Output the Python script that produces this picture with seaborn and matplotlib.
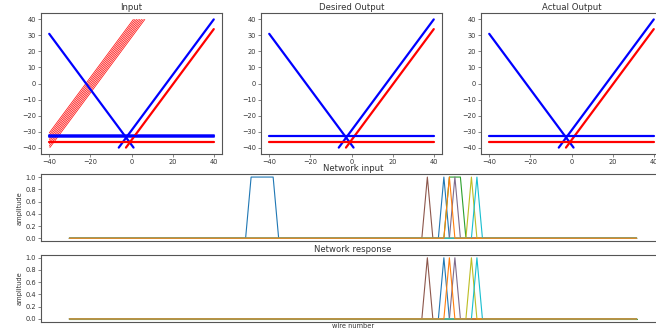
import numpy as np
import matplotlib
matplotlib.use("Agg")
import matplotlib.pyplot as plt
import seaborn as sns

sns.set_style("white")
plt.rcParams['font.family'] = ['DejaVu Sans']

# ---------------- data ----------------
# top panels: straight tracks at +/-60 degrees, given by x where the track crosses y=0
track_x0 = [-22.1, 16.9, 20.4]
track_sign = [-1, 1, 1]
track_color = ['blue', 'blue', 'red']
horiz_y = [-33.0, -36.6]
horiz_color = ['blue', 'red']
# extra (noise) tracks only present in the input
noise_x0 = [-22.2, -21.4, -20.6, -19.8, -19.0, -18.2, -17.4, -16.6]
noise_color = 'red'
noise_horiz_y = [-32.3, -33.7]
noise_horiz_color = 'blue'

coord_ticks = [-40, -20, 0, 20, 40]
coord_yticks = [-40, -30, -20, -10, 0, 10, 20, 30, 40]

# bottom panels: wires hit (amplitude 1) per series
n_wires = 104
series_colors = ['#1f77b4', '#2ca02c', '#8c564b', '#7f6a8a', '#bcbd22', '#17becf', '#ff7f0e']
input_hits = [[33, 34, 35, 36, 37, 68], [69, 70, 71], [65], [70], [73], [74], [69]]
response_hits = [[68], [], [65], [70], [73], [74], [69]]
amp_ticks = [0.0, 0.2, 0.4, 0.6, 0.8, 1.0]

# ---------------- drawing ----------------
W, H = 656, 332
fig = plt.figure(figsize=(W / 100, H / 100), dpi=100)

SL = np.tan(np.radians(60))
LIM = 40.0


def track_xy(x0, sign):
    # y = sign*SL*(x-x0), clipped to the [-40,40] square
    xa = x0 - LIM / SL
    xb = x0 + LIM / SL
    lo, hi = max(-LIM, xa), min(LIM, xb)
    xs = np.array([lo, hi])
    return xs, sign * SL * (xs - x0)


def style_axes(ax, tick_size=4.8):
    for s in ax.spines.values():
        s.set_color('#555555')
        s.set_linewidth(0.8)
    ax.tick_params(axis='both', labelsize=tick_size, length=2.2, width=0.5,
                   colors='#555555', labelcolor='#333333', pad=1.5, left=True, bottom=True)


def coord_panel(ax, title, with_noise):
    if with_noise:
        for x0 in noise_x0:
            xs, ys = track_xy(x0, 1)
            sns.lineplot(x=xs, y=ys, ax=ax, color=noise_color, linewidth=0.5)
        for y in noise_horiz_y:
            sns.lineplot(x=[-LIM, LIM], y=[y, y], ax=ax, color=noise_horiz_color, linewidth=1.4, alpha=0.7)
    for x0, sg, c in zip(track_x0, track_sign, track_color):
        xs, ys = track_xy(x0, sg)
        sns.lineplot(x=xs, y=ys, ax=ax, color=c, linewidth=1.6)
    for y, c in zip(horiz_y, horiz_color):
        sns.lineplot(x=[-LIM, LIM], y=[y, y], ax=ax, color=c, linewidth=1.6)
    ax.set_xlim(-44, 44)
    ax.set_ylim(-44, 44)
    ax.set_xticks(coord_ticks)
    ax.set_yticks(coord_yticks)
    ax.set_title(title, fontsize=6.1, pad=2.5, color='#333333')
    style_axes(ax)


top_b, top_h = (H - 154) / H, 141 / H
top_w = 181 / W
for left, title, noise in [(41, 'Input', True), (261, 'Desired Output', False), (481, 'Actual Output', False)]:
    ax = fig.add_axes([left / W, top_b, top_w, top_h])
    coord_panel(ax, title, noise)

wires = np.arange(n_wires)


def wire_panel(ax, hits_list, title, xlabel=None):
    for hits, c in zip(hits_list, series_colors):
        amp = np.zeros(n_wires)
        if hits:
            amp[hits] = 1.0
        sns.lineplot(x=wires, y=amp, ax=ax, color=c, linewidth=0.8)
    ax.set_xlim(-0.05 * (n_wires - 1), (n_wires - 1) * 1.05)
    ax.set_ylim(-0.05, 1.05)
    ax.set_xticks([])
    ax.set_yticks(amp_ticks)
    ax.set_ylabel('amplitude', fontsize=4.8, labelpad=2, color='#333333')
    ax.set_title(title, fontsize=6.1, pad=2.0, color='#333333')
    if xlabel:
        ax.set_xlabel(xlabel, fontsize=4.8, labelpad=1, color='#333333')
    style_axes(ax)


bw = (665 - 41) / W
ax_in = fig.add_axes([41 / W, (H - 241.3) / H, bw, 67.3 / H])
wire_panel(ax_in, input_hits, 'Network input')
ax_out = fig.add_axes([41 / W, (H - 322) / H, bw, 67.3 / H])
wire_panel(ax_out, response_hits, 'Network response', 'wire number')

fig.savefig('out.png', dpi=100)
